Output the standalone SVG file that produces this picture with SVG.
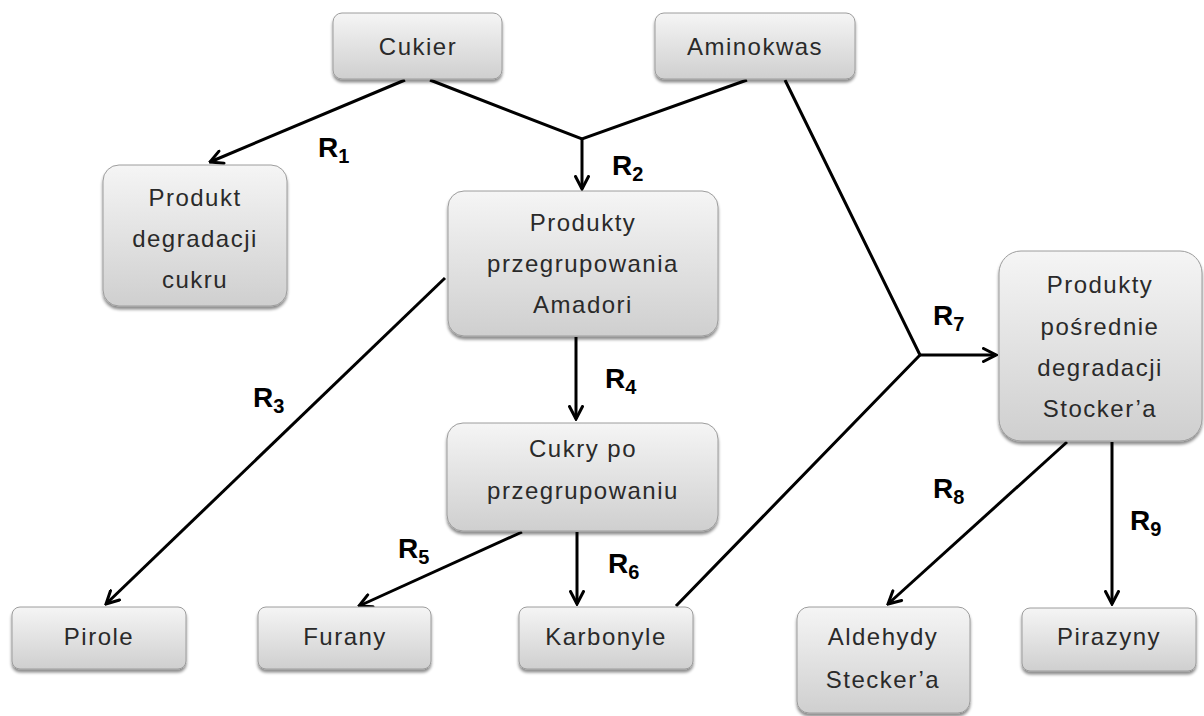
<svg xmlns="http://www.w3.org/2000/svg" width="1204" height="716" viewBox="0 0 1204 716">
<defs>
<linearGradient id="g" x1="0" y1="0" x2="0" y2="1">
<stop offset="0" stop-color="#f5f5f5"/>
<stop offset="1" stop-color="#cfcfcf"/>
</linearGradient>
<filter id="sh" x="-10%" y="-10%" width="120%" height="130%">
<feDropShadow dx="0" dy="3" stdDeviation="1.5" flood-color="#000" flood-opacity="0.45"/>
</filter>
<marker id="ah" viewBox="0 0 16 16" refX="14.5" refY="8" markerWidth="16" markerHeight="16" markerUnits="userSpaceOnUse" orient="auto">
<path d="M2,1.5 L14.5,8 L2,14.5" fill="none" stroke="#000" stroke-width="3" stroke-linecap="round" stroke-linejoin="miter"/>
</marker>
<style>
.box{fill:url(#g);stroke:#9c9c9c;stroke-width:1;filter:url(#sh)}
.t{font-family:"Liberation Sans",Arial,sans-serif;font-size:24px;fill:#2a2a2a;text-anchor:middle;letter-spacing:1.5px}
.c{fill:none;stroke:#000;stroke-width:3}
.a{marker-end:url(#ah)}
.r{font-family:"Liberation Sans",Arial,sans-serif;font-size:28px;font-weight:bold;fill:#000}
.s{font-size:20px}
</style>
</defs>
<rect width="1204" height="716" fill="#fff"/>

<g id="connectors">
<line class="c a" x1="405" y1="80" x2="210" y2="162"/>
<polyline class="c" points="430,80 582,139 747,80"/>
<line class="c a" x1="582" y1="139" x2="582" y2="189"/>
<polyline class="c" points="785,80 920,355 676,606"/>
<line class="c a" x1="920" y1="355" x2="996" y2="355"/>
<line class="c a" x1="445" y1="278" x2="106" y2="604"/>
<line class="c a" x1="576" y1="337" x2="576" y2="419"/>
<line class="c a" x1="522" y1="532" x2="359" y2="606"/>
<line class="c a" x1="577" y1="532" x2="577" y2="604"/>
<line class="c a" x1="1067" y1="442" x2="888" y2="604"/>
<line class="c a" x1="1112" y1="442" x2="1112" y2="604"/>
</g>

<g id="labels">
<text class="r" x="318" y="157">R<tspan class="s" dy="6">1</tspan></text>
<text class="r" x="612" y="175">R<tspan class="s" dy="6">2</tspan></text>
<text class="r" x="253" y="407">R<tspan class="s" dy="6">3</tspan></text>
<text class="r" x="605" y="388">R<tspan class="s" dy="6">4</tspan></text>
<text class="r" x="398" y="558">R<tspan class="s" dy="6">5</tspan></text>
<text class="r" x="608" y="573">R<tspan class="s" dy="6">6</tspan></text>
<text class="r" x="933" y="325">R<tspan class="s" dy="6">7</tspan></text>
<text class="r" x="933" y="498">R<tspan class="s" dy="6">8</tspan></text>
<text class="r" x="1130" y="530">R<tspan class="s" dy="6">9</tspan></text>
</g>

<g id="cukier">
<rect class="box" x="333" y="13" width="169" height="66" rx="9"/>
<text class="t" x="418" y="55">Cukier</text>
</g>
<g id="aminokwas">
<rect class="box" x="655" y="13" width="200" height="66" rx="9"/>
<text class="t" x="755" y="55">Aminokwas</text>
</g>
<g id="produkt-degradacji">
<rect class="box" x="103" y="165" width="184" height="141" rx="16"/>
<text class="t" x="195" y="206">Produkt</text>
<text class="t" x="195" y="247">degradacji</text>
<text class="t" x="195" y="288">cukru</text>
</g>
<g id="amadori">
<rect class="box" x="448" y="191" width="270" height="145" rx="16"/>
<text class="t" x="583" y="231">Produkty</text>
<text class="t" x="583" y="272">przegrupowania</text>
<text class="t" x="583" y="313">Amadori</text>
</g>
<g id="cukry">
<rect class="box" x="447" y="423" width="271" height="108" rx="16"/>
<text class="t" x="583" y="457">Cukry po</text>
<text class="t" x="583" y="499">przegrupowaniu</text>
</g>
<g id="stocker">
<rect class="box" x="999" y="251" width="203" height="190" rx="22"/>
<text class="t" x="1100" y="293">Produkty</text>
<text class="t" x="1100" y="335">pośrednie</text>
<text class="t" x="1100" y="376">degradacji</text>
<text class="t" x="1100" y="417">Stocker’a</text>
</g>
<g id="pirole">
<rect class="box" x="12" y="607" width="174" height="62" rx="8"/>
<text class="t" x="99" y="645">Pirole</text>
</g>
<g id="furany">
<rect class="box" x="258" y="607" width="173" height="62" rx="8"/>
<text class="t" x="345" y="645">Furany</text>
</g>
<g id="karbonyle">
<rect class="box" x="519" y="607" width="174" height="62" rx="8"/>
<text class="t" x="606" y="645">Karbonyle</text>
</g>
<g id="aldehydy">
<rect class="box" x="797" y="607" width="173" height="106" rx="12"/>
<text class="t" x="883" y="645">Aldehydy</text>
<text class="t" x="883" y="688">Stecker’a</text>
</g>
<g id="pirazyny">
<rect class="box" x="1022" y="608" width="174" height="63" rx="8"/>
<text class="t" x="1109" y="645">Pirazyny</text>
</g>
</svg>
